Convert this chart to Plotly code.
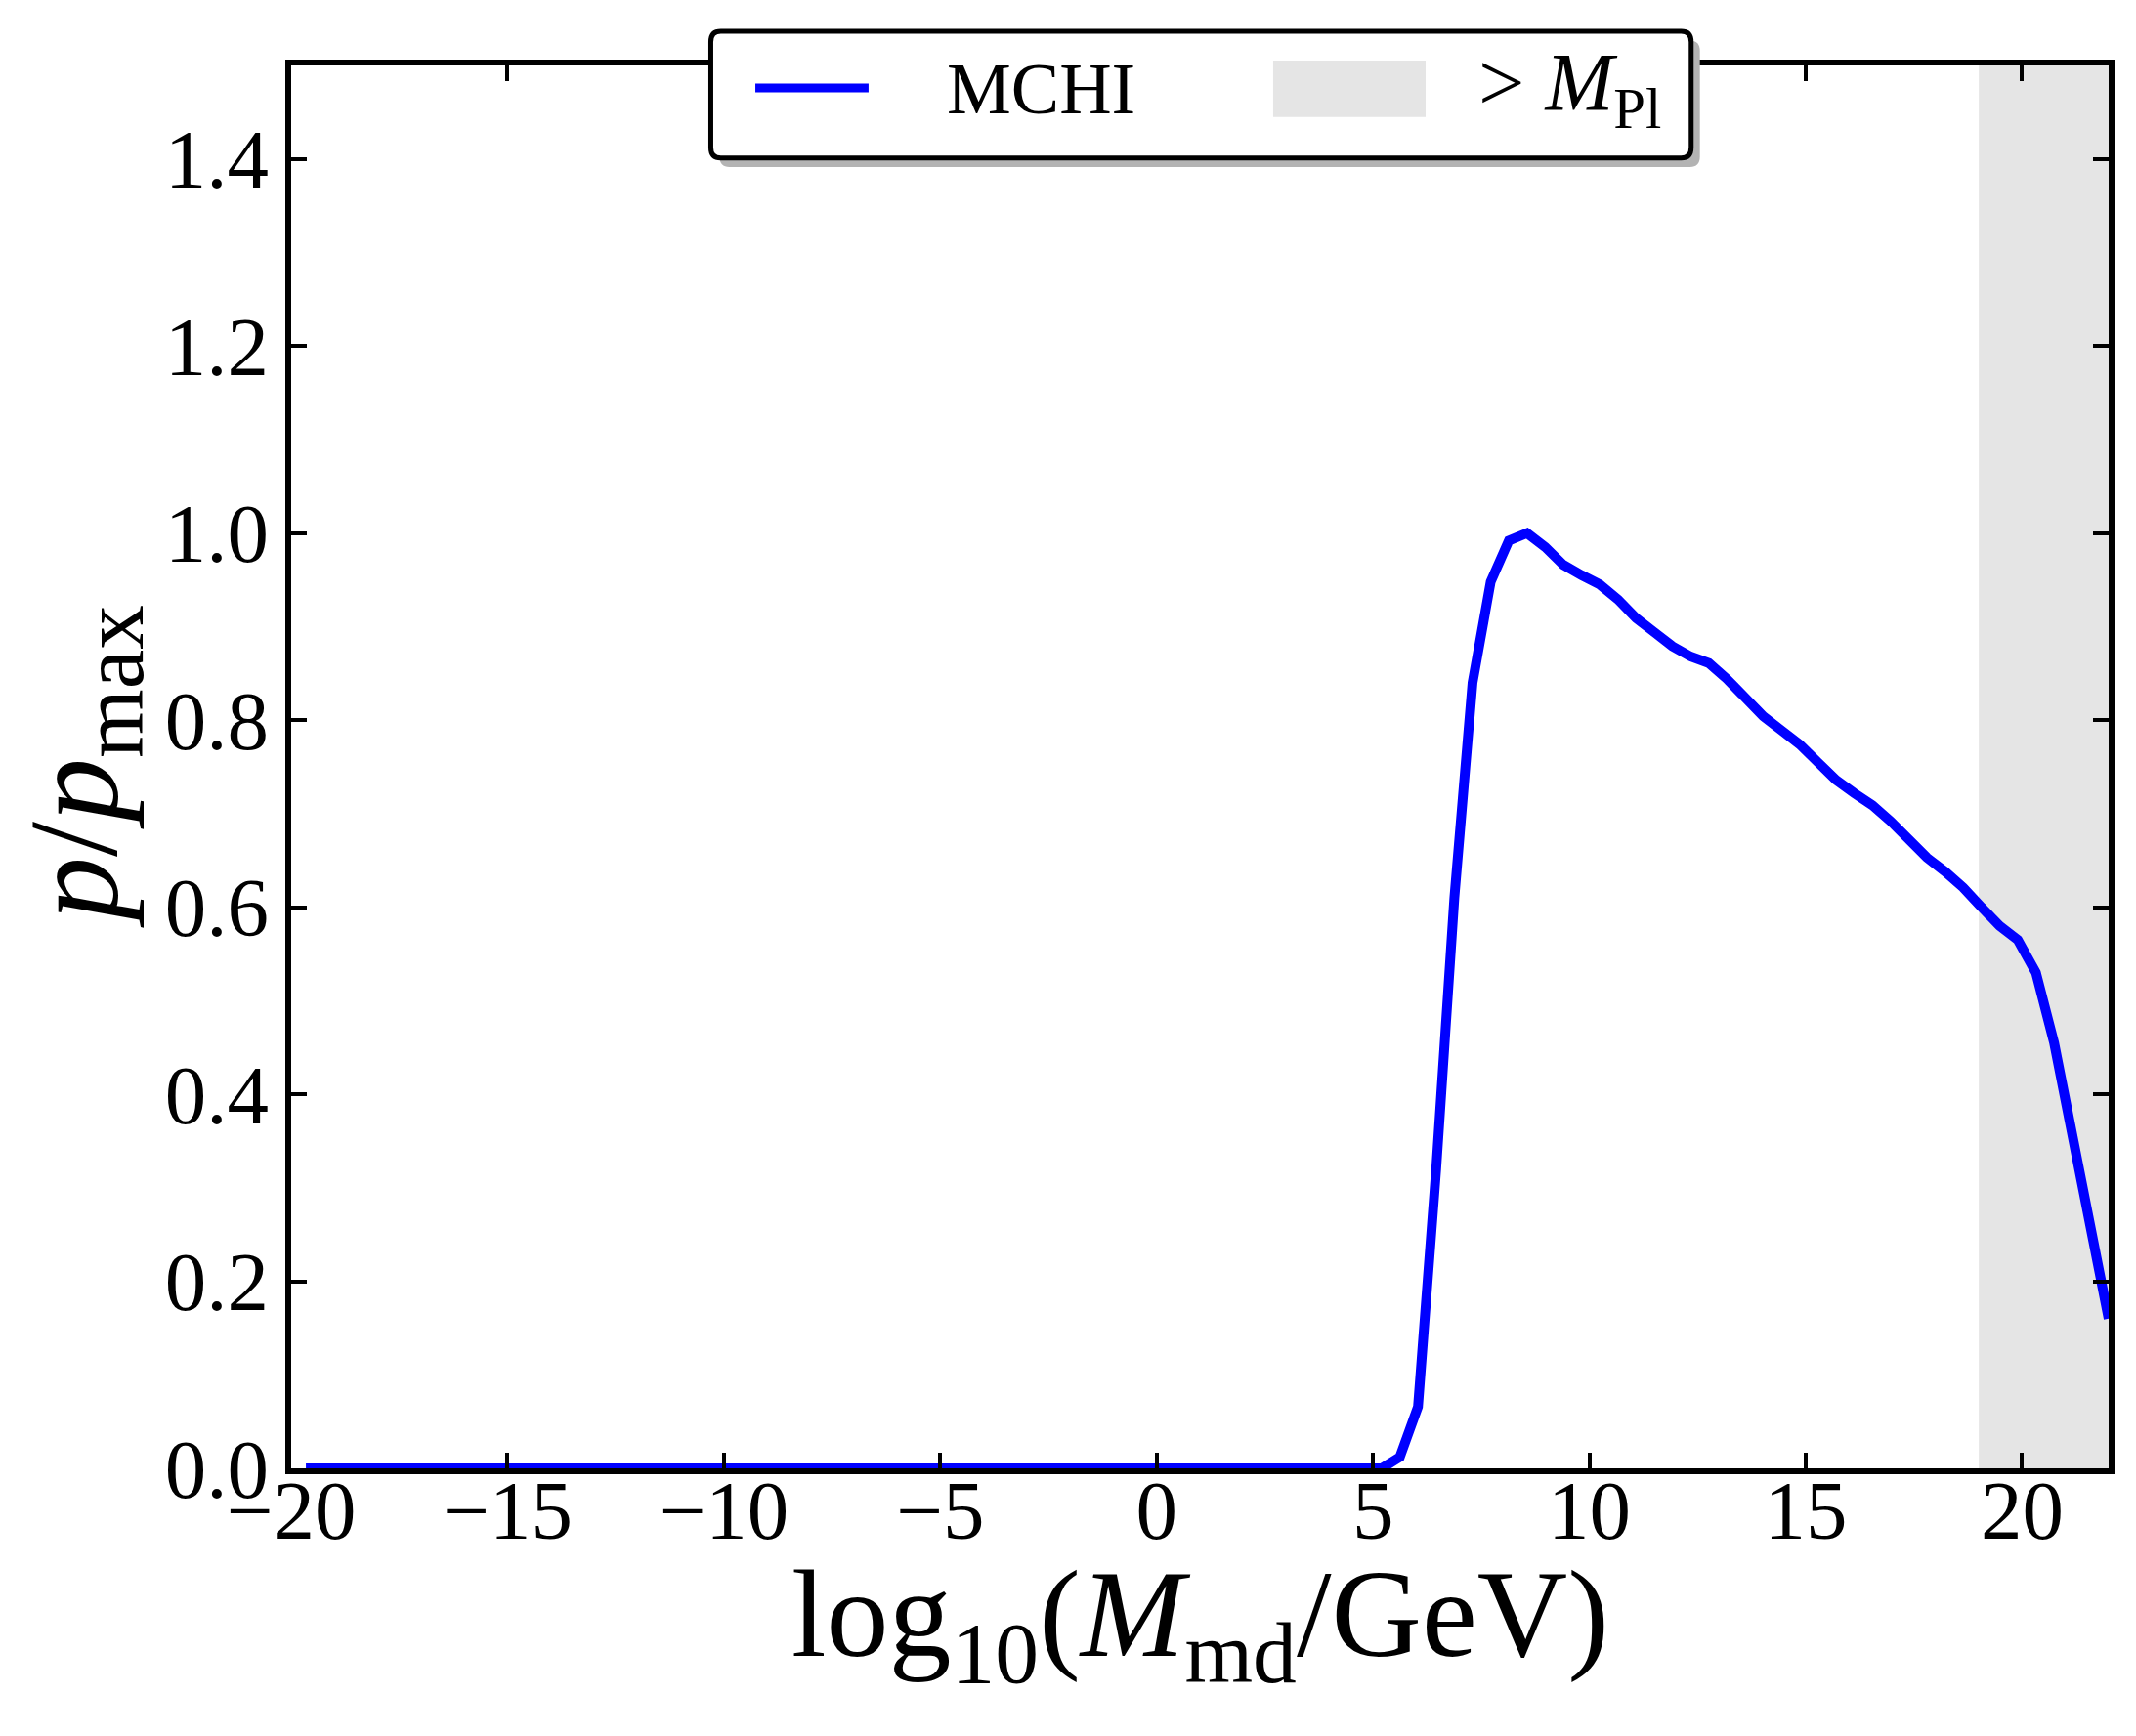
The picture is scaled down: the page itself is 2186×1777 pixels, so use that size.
import plotly.graph_objects as go

# curve (log10 M / GeV  ->  p / p_max)
log_mass = [-19.66, 5.20, 5.62, 6.04, 6.46, 6.88, 7.30, 7.72, 8.14, 8.56,
            8.98, 9.40, 9.82, 10.24, 10.66, 11.08, 11.50, 11.92, 12.34, 12.76,
            13.18, 13.60, 14.02, 14.44, 14.86, 15.28, 15.70, 16.12, 16.54, 16.96,
            17.38, 17.80, 18.22, 18.64, 19.06, 19.48, 19.90, 20.32, 20.74, 21.16,
            21.58, 22.00]
p_ratio = [0.0, 0.0, 0.012, 0.066, 0.32, 0.61, 0.84, 0.948, 0.992, 1.0,
           0.985, 0.966, 0.955, 0.945, 0.929, 0.909, 0.894, 0.879, 0.868, 0.861,
           0.844, 0.824, 0.804, 0.789, 0.774, 0.755, 0.736, 0.722, 0.709, 0.692,
           0.672, 0.653, 0.638, 0.621, 0.600, 0.580, 0.565, 0.530, 0.455, 0.355,
           0.262, 0.160]

planck_from = 19.0   # shaded "> M_Pl" band starts here
x_range = [-20, 22]
y_range = [0, 1.5]
x_ticks = [-20, -15, -10, -5, 0, 5, 10, 15, 20]
y_ticks = [0.0, 0.2, 0.4, 0.6, 0.8, 1.0, 1.2, 1.4]

FONT = "Liberation Serif"
BLUE = "#0000ff"
SHADE = "#e5e5e5"

fig = go.Figure()

fig.add_trace(go.Scatter(
    x=log_mass, y=p_ratio,
    mode="lines",
    line=dict(color=BLUE, width=10),
    showlegend=False,
    hoverinfo="skip",
))

shapes = []
# shaded region above Planck mass
shapes.append(dict(
    type="rect", xref="x", yref="paper",
    x0=planck_from, x1=x_range[1], y0=0, y1=1,
    fillcolor=SHADE, line=dict(width=0), layer="below",
))


def rounded(x0, y0, x1, y1, rx, ry):
    return (f"M {x0+rx},{y0} L {x1-rx},{y0} Q {x1},{y0} {x1},{y0+ry} "
            f"L {x1},{y1-ry} Q {x1},{y1} {x1-rx},{y1} L {x0+rx},{y1} "
            f"Q {x0},{y1} {x0},{y1-ry} L {x0},{y0+ry} Q {x0},{y0} {x0+rx},{y0} Z")


# legend box (paper coords), with a drop shadow
lx0, lx1, ly0, ly1 = 0.2309, 0.7703, 0.934, 1.0243
rx, ry = 0.0055, 0.0075
dx, dy = 0.0048, -0.0065
shapes.append(dict(type="path", xref="paper", yref="paper",
                   path=rounded(lx0 + dx, ly0 + dy, lx1 + dx, ly1 + dy, rx, ry),
                   fillcolor="#b3b3b3", line=dict(width=0), layer="above"))
shapes.append(dict(type="path", xref="paper", yref="paper",
                   path=rounded(lx0, ly0, lx1, ly1, rx, ry),
                   fillcolor="white", line=dict(color="black", width=5), layer="above"))
# legend handles
shapes.append(dict(type="line", xref="paper", yref="paper",
                   x0=0.2554, x1=0.3177, y0=0.984, y1=0.984,
                   line=dict(color=BLUE, width=9), layer="above"))
shapes.append(dict(type="rect", xref="paper", yref="paper",
                   x0=0.5403, x1=0.6242, y0=0.9632, y1=1.0035,
                   fillcolor=SHADE, line=dict(width=0), layer="above"))

annotations = [
    dict(x=0.3595, y=0.983, xref="paper", yref="paper", text="MCHI",
         showarrow=False, xanchor="left", yanchor="middle",
         font=dict(family=FONT, size=74, color="black")),
    dict(x=0.652, y=0.983, xref="paper", yref="paper",
         text="&gt; <i>M</i><sub>Pl</sub>",
         showarrow=False, xanchor="left", yanchor="middle",
         font=dict(family=FONT, size=84, color="black")),
    # axis titles
    dict(x=0.5, y=-0.110, xref="paper", yref="paper",
         text="log<sub>10</sub>(<i>M</i><sub>md</sub>/GeV)",
         showarrow=False, xanchor="center", yanchor="middle",
         font=dict(family=FONT, size=128, color="black")),
    dict(x=-0.115, y=0.5, xref="paper", yref="paper",
         text="<i>p</i>/<i>p</i><sub>max</sub>", textangle=-90,
         showarrow=False, xanchor="center", yanchor="middle",
         font=dict(family=FONT, size=130, color="black")),
]

axis_common = dict(
    showgrid=False, zeroline=False,
    showline=True, linecolor="black", linewidth=6, mirror="ticks",
    ticks="inside", ticklen=16, tickwidth=3.5, tickcolor="black",
    tickfont=dict(family=FONT, size=85, color="black"),
)

fig.update_layout(
    width=2186, height=1777,
    margin=dict(l=290, r=36, t=59, b=282),
    plot_bgcolor="white", paper_bgcolor="white",
    shapes=shapes, annotations=annotations,
    showlegend=False,
    xaxis=dict(range=x_range, tickvals=x_ticks, ticklabelstandoff=-36, **axis_common),
    yaxis=dict(range=y_range, tickvals=y_ticks, tickformat=".1f", **axis_common),
)

fig.write_html("out.html")
